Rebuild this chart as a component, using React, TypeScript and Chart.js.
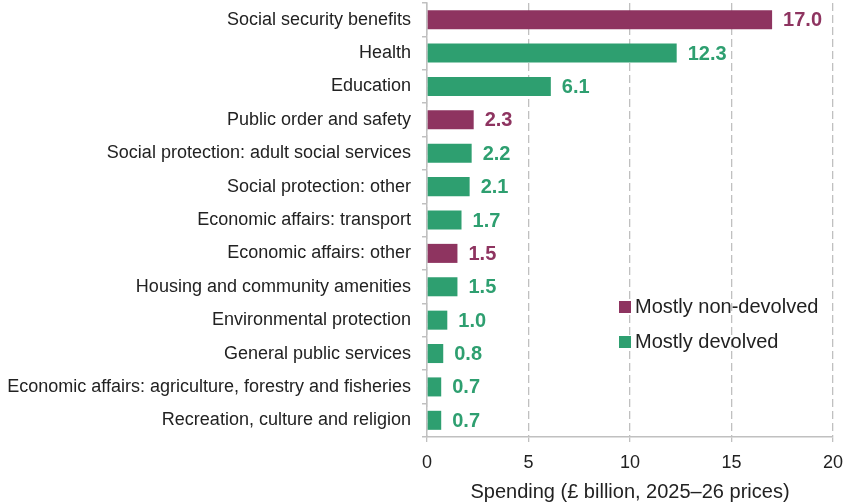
import React, { useEffect, useRef } from "react";
import { Chart, registerables } from "chart.js";
Chart.register(...registerables);

const categories = [
  "Social security benefits",
  "Health",
  "Education",
  "Public order and safety",
  "Social protection: adult social services",
  "Social protection: other",
  "Economic affairs: transport",
  "Economic affairs: other",
  "Housing and community amenities",
  "Environmental protection",
  "General public services",
  "Economic affairs: agriculture, forestry and fisheries",
  "Recreation, culture and religion",
];
const values = [17.0, 12.3, 6.1, 2.3, 2.2, 2.1, 1.7, 1.5, 1.5, 1.0, 0.8, 0.7, 0.7];
// 0 = mostly non-devolved, 1 = mostly devolved
const groups = [0, 1, 1, 0, 1, 1, 1, 0, 1, 1, 1, 1, 1];
const legendLabels = ["Mostly non-devolved", "Mostly devolved"];
const groupColors = ["#8E3460", "#2E9F70"];
const xMin = 0;
const xMax = 20;
const xStep = 5;
const xTitle = "Spending (£ billion, 2025\u201326 prices)";

const FONT = "'Liberation Sans', Arial, sans-serif";
const TEXT = "#222222";
const GRID = "#C0C0C0";

const dataLabelPlugin = {
  id: "dataLabels",
  afterDatasetsDraw(chart: any) {
    const ctx = chart.ctx;
    const meta = chart.getDatasetMeta(0);
    ctx.save();
    ctx.font = `bold 20px ${FONT}`;
    ctx.textBaseline = "middle";
    ctx.textAlign = "left";
    meta.data.forEach((bar: any, i: number) => {
      ctx.fillStyle = groupColors[groups[i]];
      ctx.fillText(values[i].toFixed(1), bar.x + 11, bar.y + 1);
    });
    ctx.restore();
  },
};

const legendPlugin = {
  id: "customLegend",
  afterDraw(chart: any) {
    const ctx = chart.ctx;
    const area = chart.chartArea;
    ctx.save();
    ctx.font = `20px ${FONT}`;
    ctx.textBaseline = "middle";
    ctx.textAlign = "left";
    legendLabels.forEach((label, i) => {
      const x = area.left + 192;
      const y = area.top + 304 + i * 35;
      ctx.fillStyle = groupColors[i];
      ctx.fillRect(x, y - 6, 12, 12);
      ctx.fillStyle = TEXT;
      ctx.fillText(label, x + 16, y);
    });
    ctx.restore();
  },
};

export default function App() {
  const ref = useRef<HTMLCanvasElement>(null);
  useEffect(() => {
    document.body.style.margin = "0";
    const chart = new Chart(ref.current!, {
      type: "bar",
      data: {
        labels: categories,
        datasets: [
          {
            data: values,
            backgroundColor: groups.map((g) => groupColors[g]),
            categoryPercentage: 1,
            barPercentage: 0.57,
          },
        ],
      },
      options: {
        indexAxis: "y",
        animation: false,
        responsive: false,
        maintainAspectRatio: false,
        layout: { padding: { top: 3, right: 15, bottom: 0, left: 0 } },
        plugins: { legend: { display: false }, tooltip: { enabled: false } },
        scales: {
          x: {
            min: xMin,
            max: xMax,
            ticks: {
              stepSize: xStep,
              font: { family: FONT, size: 18 },
              color: TEXT,
              padding: 10,
            },
            grid: {
              color: GRID,
              lineWidth: 1.3,
              tickLength: 5,
              drawTicks: true,
            },
            border: { display: true, color: GRID, width: 1.5, dash: [8, 4] },
            title: {
              display: true,
              text: xTitle,
              font: { family: FONT, size: 20, lineHeight: 1 },
              color: TEXT,
              padding: { top: 0, bottom: 1 },
            },
            afterFit(scale: any) {
              scale.height = 66;
              scale.paddingLeft = 0;
              scale.paddingRight = 0;
            },
          },
          y: {
            type: "category",
            ticks: {
              font: { family: FONT, size: 18 },
              color: TEXT,
              padding: 11,
              autoSkip: false,
            },
            grid: {
              offset: true,
              drawOnChartArea: false,
              drawTicks: true,
              tickLength: 5,
              color: GRID,
              lineWidth: 1.5,
            },
            border: { display: true, color: GRID, width: 1.5 },
            afterFit(scale: any) {
              scale.width = 427;
              scale.paddingTop = 0;
              scale.paddingBottom = 0;
            },
          },
        },
      },
      plugins: [dataLabelPlugin, legendPlugin],
    } as any);
    return () => chart.destroy();
  }, []);
  return (
    <div style={{ width: 848, height: 503 }}>
      <canvas ref={ref} width={848} height={503} style={{ display: "block" }} />
    </div>
  );
}
